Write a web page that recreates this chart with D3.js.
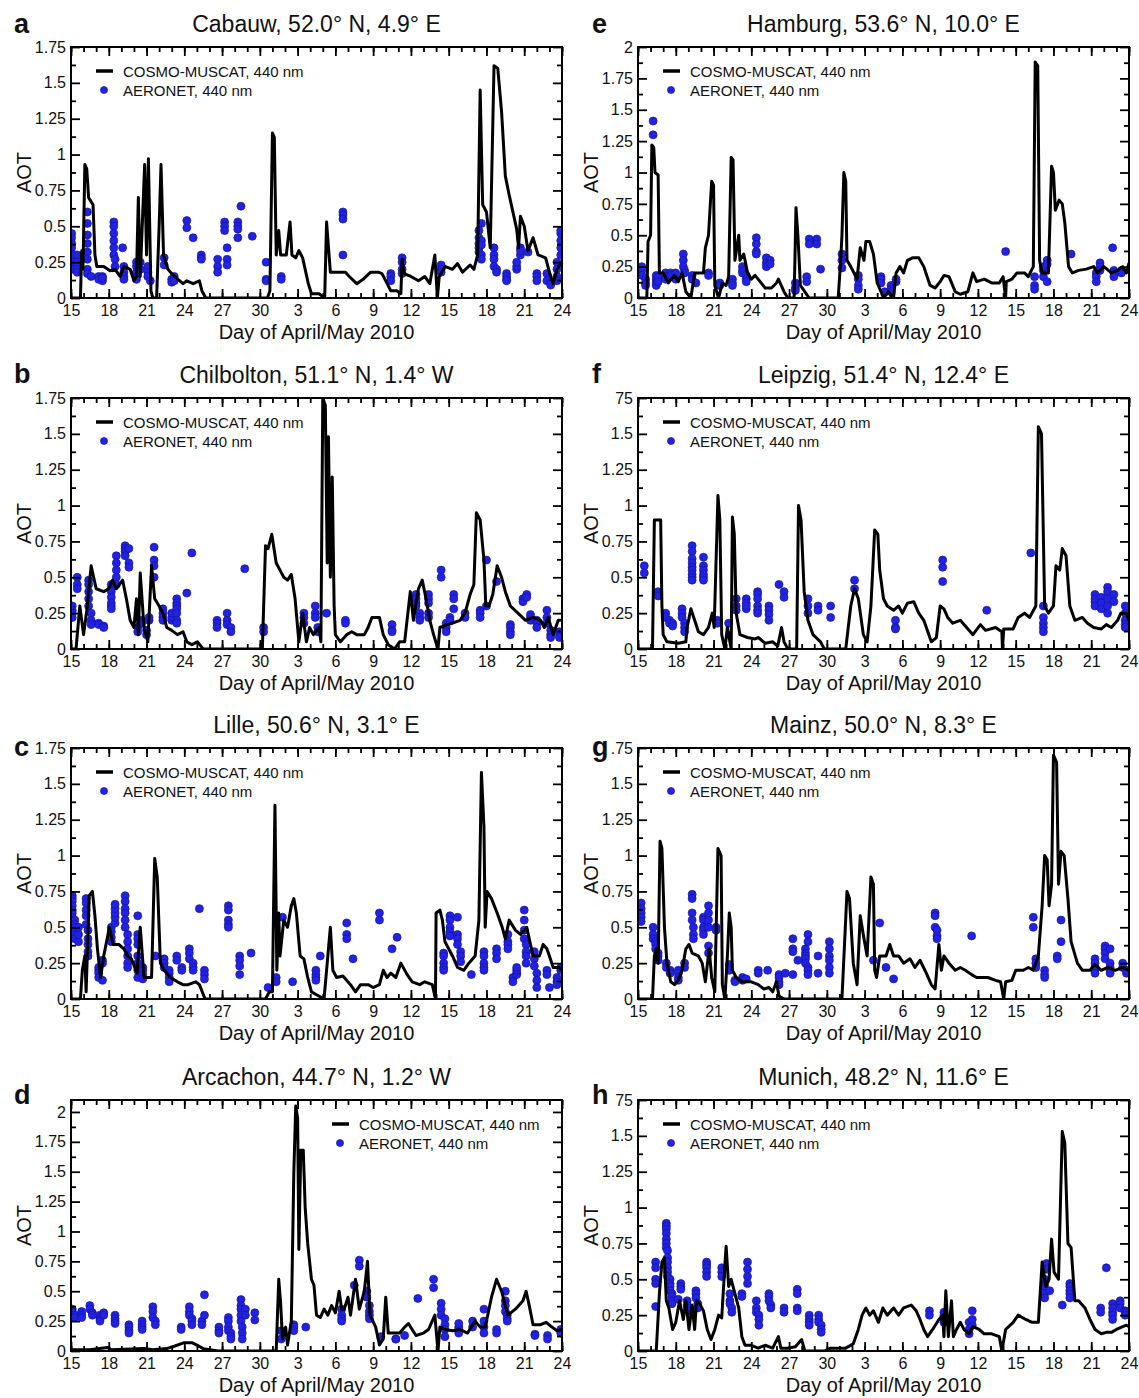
<!DOCTYPE html>
<html>
<head>
<meta charset="utf-8">
<style>
    body { margin: 0; background: #fff; }
    svg { display: block; font-family: 'Liberation Sans', Arial, sans-serif; }
</style>
</head>
<body>
<svg width="1139" height="1398"></svg>

<script src="https://d3js.org/d3.v7.min.js"></script>
<script>
    // x is days since 15 April 2010 (15 = 30 Apr, 16 = 1 May, 39 = 24 May)
    let dayTicks = [0, 3, 6, 9, 12, 15, 18, 21, 24, 27, 30, 33, 36, 39];
    let dayLabels = ["15", "18", "21", "24", "27", "30", "3", "6", "9", "12", "15", "18", "21", "24"];

    // model lines: [day, AOT]
    let cabauwModel = [[0,0],[0.75,0],[0.85,0.33],[0.95,0.2],[1.1,0.93],[1.25,0.9],[1.4,0.7],[1.75,0.65],[1.9,0.3],[2.05,0.22],[2.6,0.22],[3.1,0.19],[3.5,0.2],[3.9,0.15],[4.2,0.22],[4.7,0.2],[5.0,0.12],[5.2,0.15],[5.35,0.7],[5.5,0.15],[5.85,0.93],[6.0,0.3],[6.15,0.97],[6.35,0.05],[6.5,0],[6.8,0],[7.0,0.5],[7.15,0.93],[7.35,0.3],[7.7,0.2],[8.0,0.17],[8.5,0.13],[8.9,0.1],[9.2,0.12],[9.7,0.1],[10.2,0.12],[10.4,0.05],[10.7,0],[15.6,0],[15.8,0.05],[16.0,1.15],[16.15,1.12],[16.3,0.3],[16.5,0.47],[16.65,0.3],[17.1,0.3],[17.4,0.53],[17.55,0.3],[17.85,0.28],[18.1,0.33],[18.4,0.28],[18.85,0.1],[19.1,0.03],[19.7,0.03],[20.15,0],[20.3,0.53],[20.6,0.18],[21.2,0.18],[21.8,0.18],[22.1,0.15],[22.7,0.1],[23.2,0.13],[23.8,0.18],[24.4,0.18],[24.7,0.17],[25.0,0.12],[25.4,0.05],[25.9,0.05],[26.2,0.03],[26.3,0.27],[26.45,0.17],[27.0,0.15],[27.6,0.12],[28.1,0.15],[28.5,0.1],[28.9,0.3],[29.1,0],[29.25,0.15],[29.7,0.22],[30.3,0.2],[30.7,0.24],[31.1,0.18],[31.7,0.23],[32.0,0.2],[32.3,0.3],[32.5,1.45],[32.7,0.65],[33.0,0.6],[33.3,0.35],[33.6,1.62],[33.9,1.6],[34.2,1.3],[34.5,0.85],[34.8,0.72],[35.1,0.6],[35.4,0.48],[35.55,0.35],[35.7,0.57],[36.0,0.5],[36.3,0.33],[36.7,0.42],[37.1,0.3],[37.7,0.28],[38.0,0.18],[38.3,0.1],[38.6,0.2],[39,0.25]];
    let chilboltonModel = [[0,0],[0.4,0],[0.7,0.3],[1.0,0.1],[1.3,0.3],[1.6,0.58],[1.8,0.5],[2.0,0.42],[2.6,0.4],[3.0,0.42],[3.3,0.48],[3.6,0.42],[4.1,0.48],[4.4,0.35],[4.7,0.2],[5.0,0.15],[5.2,0.35],[5.35,0.1],[5.5,0.53],[5.8,0.15],[6.1,0.05],[6.4,0.58],[6.65,0.35],[7.0,0.3],[7.3,0.25],[7.6,0.15],[8.0,0.13],[8.45,0.1],[8.9,0.12],[9.2,0.05],[9.6,0.03],[10.05,0.05],[10.5,0],[15.2,0],[15.45,0.72],[15.65,0.7],[15.95,0.8],[16.3,0.6],[16.6,0.55],[16.9,0.5],[17.2,0.48],[17.5,0.52],[17.8,0.35],[18.1,0.05],[18.4,0.25],[18.7,0.05],[18.95,0.15],[19.25,0.1],[19.7,0.15],[19.85,0.05],[20.0,1.75],[20.2,1.7],[20.35,0.6],[20.45,1.48],[20.6,0.5],[20.75,1.2],[20.9,0.3],[21.0,0.1],[21.4,0.05],[21.9,0.1],[22.3,0.12],[22.7,0.1],[23.3,0.1],[23.6,0.15],[23.9,0.22],[24.5,0.22],[24.8,0.1],[25.2,0.03],[25.7,0],[26.1,0.05],[26.5,0.05],[26.95,0.4],[27.2,0.2],[27.6,0.42],[27.9,0.48],[28.2,0.35],[28.5,0.2],[28.8,0.1],[29.15,0],[29.3,0.15],[29.9,0.17],[30.3,0.18],[30.9,0.2],[31.3,0.25],[31.7,0.38],[32.0,0.45],[32.2,0.95],[32.5,0.9],[32.8,0.62],[32.95,0.3],[33.2,0.3],[33.5,0.38],[33.85,0.58],[34.2,0.5],[34.5,0.4],[34.9,0.3],[35.5,0.25],[36.1,0.2],[36.7,0.22],[37.3,0.2],[37.6,0.15],[37.9,0.22],[38.3,0.1],[38.7,0.2],[39,0.2]];
    let lilleModel = [[0,0],[0.75,0],[0.9,0.2],[1.1,0.3],[1.2,0.05],[1.45,0.72],[1.7,0.75],[1.9,0.58],[2.1,0.35],[2.35,0.15],[2.6,0.3],[3.05,0.5],[3.35,0.38],[3.8,0.38],[4.2,0.35],[4.5,0.3],[4.8,0.28],[5.25,0.18],[5.5,0.5],[5.8,0.15],[6.4,0.15],[6.65,0.98],[6.85,0.85],[7.1,0.25],[7.4,0.2],[7.9,0.15],[8.45,0.12],[8.9,0.1],[9.3,0.1],[9.9,0.12],[10.2,0.1],[10.65,0],[15.45,0],[15.75,0.05],[16.0,0.05],[16.2,1.35],[16.35,0.2],[16.5,0.6],[16.6,0.3],[16.9,0.55],[17.2,0.5],[17.5,0.65],[17.7,0.7],[17.9,0.6],[18.2,0.3],[18.5,0.28],[18.8,0.15],[19.1,0.05],[19.5,0.03],[20.1,0],[20.4,0.3],[20.6,0.5],[20.8,0.2],[21.1,0.15],[21.6,0.16],[22.2,0.1],[22.6,0.05],[23.0,0.1],[23.6,0.1],[24.0,0.08],[24.5,0.1],[24.8,0.2],[25.1,0.15],[25.4,0.18],[25.8,0.15],[26.2,0.25],[26.7,0.17],[27.1,0.12],[27.7,0.1],[28.1,0.12],[28.7,0.1],[28.95,0],[29.0,0.6],[29.3,0.62],[29.5,0.55],[29.7,0.4],[30.3,0.3],[30.7,0.22],[31.2,0.2],[31.6,0.25],[32.1,0.3],[32.4,0.55],[32.6,1.58],[32.8,1.2],[32.9,0.5],[33.05,0.75],[33.4,0.7],[33.85,0.6],[34.25,0.5],[34.5,0.42],[34.8,0.55],[35.3,0.48],[35.7,0.45],[36.2,0.5],[36.4,0.42],[36.7,0.3],[37.2,0.3],[37.5,0.38],[37.8,0.35],[38.0,0.3],[38.3,0.22],[38.8,0.22],[39,0.2]];
    let arcachonModel = [[0,0.01],[1.5,0.01],[2.9,0.03],[3.2,0.01],[5.8,0.02],[6.5,0.01],[7.6,0.02],[8.2,0.04],[9.0,0.07],[9.6,0.07],[10.0,0.05],[10.5,0.02],[11.7,0],[16.3,0],[16.5,0.6],[16.65,0.4],[16.8,0.1],[17.05,0.2],[17.2,0.05],[17.5,0.25],[17.7,1.5],[17.85,2.05],[18.0,1.95],[18.1,0.85],[18.25,1.68],[18.45,1.68],[18.6,1.2],[18.8,0.9],[19.1,0.6],[19.3,0.55],[19.5,0.3],[19.8,0.28],[20.1,0.35],[20.4,0.3],[20.7,0.38],[21.0,0.32],[21.3,0.5],[21.5,0.35],[21.7,0.35],[22.0,0.45],[22.2,0.3],[22.6,0.6],[22.9,0.35],[23.3,0.5],[23.55,0.75],[23.75,0.3],[24.2,0.2],[24.5,0.05],[24.8,0.1],[25.0,0.45],[25.2,0.15],[25.7,0.15],[26.1,0.15],[26.5,0.2],[26.8,0.23],[27.4,0.13],[28.0,0.15],[28.4,0.18],[28.9,0.3],[29.15,0],[29.3,0.2],[29.7,0.18],[30.3,0.17],[30.9,0.18],[31.5,0.15],[32.1,0.25],[32.5,0.2],[32.9,0.2],[33.4,0.45],[33.8,0.6],[34.2,0.5],[34.7,0.3],[35.3,0.35],[35.9,0.42],[36.15,0.5],[36.4,0.38],[36.7,0.22],[37.3,0.22],[37.75,0.24],[38.2,0.2],[38.6,0.17],[39,0.18]];
    let hamburgModel = [[0,0],[0.7,0],[0.8,0.45],[1.0,0.5],[1.1,1.22],[1.25,1.2],[1.35,1.0],[1.6,0.98],[1.7,0.2],[2.0,0.2],[2.4,0.12],[2.9,0.18],[3.2,0.13],[3.5,0.2],[3.8,0.05],[4.2,0],[4.5,0.2],[5.2,0.2],[5.35,0.4],[5.6,0.5],[5.85,0.93],[6.0,0.9],[6.1,0.1],[6.4,0],[6.7,0.12],[7.0,0.1],[7.2,0.17],[7.4,1.12],[7.55,1.1],[7.7,0.3],[8.0,0.5],[8.1,0.3],[8.4,0.35],[8.7,0.2],[9.0,0.15],[9.3,0.18],[9.7,0.13],[10.1,0.08],[10.6,0.08],[11.0,0.12],[11.15,0.15],[11.6,0.05],[11.9,0],[12.4,0],[12.55,0.72],[12.7,0.5],[12.9,0.1],[13.6,0],[15.9,0],[16.1,0.3],[16.2,0.5],[16.35,1.0],[16.5,0.93],[16.6,0.3],[16.9,0.25],[17.4,0.15],[17.65,0.4],[17.95,0.3],[18.1,0.45],[18.4,0.45],[18.7,0.35],[19.0,0.12],[19.3,0.05],[19.5,0],[19.9,0.05],[20.3,0],[20.5,0.2],[20.8,0.25],[21.1,0.2],[21.4,0.3],[21.8,0.32],[22.3,0.32],[22.7,0.25],[23.2,0.1],[23.6,0.08],[24.0,0.13],[24.3,0.18],[24.7,0.17],[25.2,0.05],[25.6,0.03],[26.2,0.05],[26.6,0.2],[26.9,0.13],[27.5,0.15],[28.1,0.12],[28.7,0.12],[29.0,0.17],[29.2,0],[29.25,0.13],[29.7,0.15],[30.1,0.2],[30.7,0.2],[31.0,0.17],[31.4,0.25],[31.55,1.88],[31.75,1.85],[31.9,0.3],[32.1,0.2],[32.6,0.2],[32.85,1.05],[33.0,1.0],[33.15,0.7],[33.45,0.78],[33.7,0.75],[33.9,0.6],[34.2,0.25],[34.5,0.2],[35.0,0.22],[35.6,0.23],[36.2,0.25],[36.5,0.2],[37.0,0.25],[37.6,0.2],[38.1,0.22],[38.5,0.25],[38.8,0.2],[39,0.28]];
    let leipzigModel = [[0,0],[1.15,0],[1.3,0.9],[1.8,0.9],[1.9,0.3],[2.0,0.1],[2.3,0.05],[3.2,0.04],[3.8,0.05],[3.9,0.15],[4.2,0.28],[4.5,0.2],[4.8,0.12],[5.2,0.1],[5.6,0.15],[5.9,0.25],[6.05,0.15],[6.35,1.07],[6.5,0.9],[6.65,0.1],[6.9,0],[7.1,0.15],[7.4,0],[7.5,0.92],[7.65,0.8],[7.8,0.25],[8.1,0.1],[8.7,0.08],[9.3,0.07],[9.55,0.08],[10.1,0.04],[10.7,0.05],[11.1,0.02],[11.4,0.15],[11.6,0.05],[11.9,0],[12.6,0],[12.75,1.0],[12.95,0.9],[13.2,0.4],[13.5,0.2],[13.9,0.1],[14.5,0.05],[14.8,0],[16.5,0],[16.9,0.3],[17.2,0.42],[17.5,0.35],[17.9,0.1],[18.2,0.05],[18.5,0.3],[18.8,0.83],[19.05,0.8],[19.2,0.55],[19.5,0.35],[19.8,0.3],[20.3,0.27],[20.7,0.3],[21.0,0.25],[21.4,0.32],[21.9,0.33],[22.3,0.25],[22.7,0.2],[23.3,0.05],[23.7,0.08],[24.0,0.3],[24.3,0.28],[24.6,0.22],[25.0,0.18],[25.6,0.2],[26.0,0.16],[26.6,0.1],[27.2,0.17],[27.6,0.13],[28.4,0.15],[28.9,0.12],[28.95,0],[29.05,0.14],[29.8,0.14],[30.2,0.22],[30.7,0.25],[31.1,0.22],[31.6,0.3],[31.8,1.55],[32.05,1.5],[32.3,0.3],[32.6,0.25],[33.0,0.3],[33.2,0.58],[33.5,0.55],[33.7,0.7],[34.0,0.65],[34.3,0.3],[34.7,0.2],[35.3,0.22],[35.7,0.18],[36.2,0.15],[36.8,0.14],[37.2,0.17],[37.6,0.15],[38.1,0.2],[38.35,0.25],[38.8,0.25],[39,0.2]];
    let mainzModel = [[0,0],[1.15,0],[1.3,0.3],[1.45,0.35],[1.6,0.25],[1.75,1.1],[1.9,1.05],[2.1,0.5],[2.3,0.25],[2.6,0.12],[2.9,0.1],[3.2,0.13],[3.5,0.2],[3.8,0.35],[4.05,0.38],[4.3,0.32],[4.8,0.3],[5.1,0.25],[5.35,0.12],[5.65,0.35],[5.85,0.15],[6.1,0.05],[6.35,1.05],[6.6,1.0],[6.7,0.1],[6.9,0],[7.1,0.3],[7.25,0.6],[7.4,0.5],[7.5,0.2],[7.8,0.15],[8.25,0.12],[9.0,0.12],[9.55,0.1],[10.0,0.07],[10.4,0.08],[10.7,0.05],[11.0,0.12],[11.2,0.02],[11.6,0],[16.2,0],[16.6,0.75],[16.8,0.7],[17.1,0.25],[17.4,0.1],[17.65,0.58],[17.95,0.42],[18.2,0.3],[18.5,0.85],[18.7,0.8],[18.8,0.2],[18.95,0.15],[19.2,0.3],[19.7,0.3],[20.0,0.38],[20.3,0.3],[20.7,0.3],[21.1,0.25],[21.6,0.28],[22.0,0.22],[22.4,0.27],[22.9,0.18],[23.3,0.1],[23.6,0.07],[23.9,0.38],[24.1,0.2],[24.3,0.3],[24.7,0.25],[25.2,0.2],[25.6,0.22],[26.0,0.2],[26.5,0.17],[26.9,0.15],[27.8,0.15],[28.4,0.13],[28.8,0.12],[29.05,0],[29.2,0.12],[29.7,0.13],[30.0,0.2],[30.6,0.2],[31.0,0.22],[31.4,0.2],[31.8,0.3],[32.1,0.65],[32.3,1.0],[32.5,0.97],[32.65,0.65],[32.85,0.8],[33.0,1.7],[33.25,1.65],[33.4,0.8],[33.6,1.03],[33.85,1.0],[34.15,0.7],[34.4,0.4],[34.9,0.25],[35.3,0.2],[35.9,0.2],[36.3,0.24],[36.8,0.2],[37.3,0.22],[37.9,0.2],[38.5,0.22],[39,0.2]];
    let munichModel = [[0,0],[1.45,0],[1.7,0.4],[1.9,0.62],[2.1,0.65],[2.25,0.35],[2.45,0.3],[2.75,0.15],[3.0,0.2],[3.3,0.35],[3.6,0.22],[3.8,0.35],[4.05,0.15],[4.3,0.32],[4.5,0.15],[4.65,0.35],[4.9,0.33],[5.2,0.28],[5.5,0.15],[5.8,0.08],[6.1,0.15],[6.4,0.25],[6.65,0.23],[6.9,0.6],[7.0,0.73],[7.2,0.45],[7.4,0.5],[7.7,0.4],[8.0,0.3],[8.25,0.1],[8.5,0.04],[9.0,0.04],[9.55,0.02],[10.1,0.04],[10.7,0.02],[11.15,0.1],[11.35,0.02],[11.9,0.02],[12.5,0.03],[13.0,0.08],[13.25,0],[14.8,0],[15.3,0.02],[16.5,0.02],[17.1,0.05],[17.5,0.15],[17.8,0.25],[18.1,0.3],[18.4,0.25],[18.7,0.28],[19.1,0.2],[19.45,0.3],[19.8,0.25],[20.3,0.3],[20.7,0.25],[21.1,0.3],[21.7,0.32],[22.1,0.28],[22.4,0.22],[22.7,0.15],[23.0,0.1],[23.4,0.15],[23.9,0.22],[24.2,0.25],[24.3,0.1],[24.45,0.42],[24.65,0.1],[24.9,0.35],[25.05,0.1],[25.3,0.15],[25.6,0.2],[25.9,0.15],[26.3,0.12],[26.6,0.17],[27.1,0.15],[27.5,0.12],[28.1,0.12],[28.7,0.1],[28.9,0],[29.2,0.15],[29.8,0.2],[30.2,0.25],[30.8,0.22],[31.3,0.2],[31.8,0.2],[32.1,0.62],[32.4,0.45],[32.65,0.5],[32.85,0.78],[33.05,0.55],[33.4,0.5],[33.7,1.53],[33.9,1.45],[34.15,0.75],[34.4,0.72],[34.7,0.35],[35.0,0.35],[35.5,0.3],[35.9,0.22],[36.3,0.15],[36.8,0.12],[37.2,0.13],[37.6,0.13],[38.0,0.15],[38.5,0.17],[38.8,0.18],[39,0.17]];

    // AERONET measurements: [day, AOT, AOT, ...] (several values measured at about the same time)
    let cabauwObs = [[0.05,0.45,0.42,0.38,0.35],[0.2,0.3,0.25,0.22,0.2],[0.5,0.3,0.25,0.22,0.2,0.18],[1.3,0.6,0.52,0.44,0.38,0.32,0.27,0.2,0.17],[1.6,0.15],[2.2,0.15,0.13],[2.5,0.12,0.15,0.14],[3.4,0.53,0.5,0.45,0.4,0.35,0.3],[3.5,0.27,0.22],[4.1,0.35],[4.2,0.22,0.18,0.15,0.13],[5.2,0.25,0.22,0.18,0.15,0.13],[5.5,0.25,0.2],[6.1,0.22,0.18,0.15],[6.3,0.12],[7.4,0.28,0.23],[8.0,0.13,0.11],[8.2,0.15,0.12],[9.2,0.54,0.49],[9.7,0.42],[10.35,0.3,0.28,0.27],[11.65,0.27,0.22,0.18],[12.2,0.53,0.5,0.47],[12.4,0.35,0.27,0.23],[13.25,0.53,0.5,0.48,0.42],[13.5,0.64],[14.4,0.43],[15.5,0.25,0.13,0.12],[16.7,0.15,0.13],[21.6,0.6,0.58,0.55,0.3],[25.4,0.17,0.15,0.12],[26.3,0.28,0.25,0.2,0.17],[29.4,0.23,0.2,0.18],[32.4,0.47,0.42,0.38,0.35,0.32],[32.6,0.3,0.27,0.52,0.4,0.37],[33.6,0.35,0.3,0.27,0.22],[33.8,0.2,0.18],[34.6,0.17,0.15,0.13,0.12],[35.4,0.2,0.22,0.25],[35.7,0.3,0.35,0.33],[36.3,0.32],[37.0,0.17,0.15,0.12],[37.8,0.17,0.12],[38.1,0.1,0.09],[38.6,0.25,0.2,0.15,0.12],[38.9,0.4,0.45,0.47,0.35,0.3]];
    let chilboltonObs = [[0.1,0.3,0.27,0.25,0.22],[0.5,0.5,0.45,0.42],[1.4,0.48,0.45,0.4,0.35,0.3],[1.6,0.25,0.2,0.17],[2.2,0.18,0.17],[2.6,0.16,0.15],[3.2,0.45,0.42,0.4,0.36,0.32,0.3,0.28],[3.6,0.65,0.6,0.55,0.5,0.45],[4.3,0.72,0.7,0.68,0.65],[4.6,0.6,0.57,0.7],[5.3,0.15,0.12],[5.6,0.2,0.18],[6.0,0.1,0.13],[6.2,0.2,0.22],[6.6,0.71,0.62,0.58,0.5],[7.3,0.28,0.25,0.22,0.2],[8.0,0.2,0.22,0.25],[8.4,0.35,0.32,0.3,0.28,0.25,0.2,0.18],[9.2,0.39],[9.6,0.67],[11.6,0.2,0.18,0.15],[12.4,0.25,0.2,0.17],[12.7,0.15,0.12],[13.8,0.56],[15.3,0.15,0.12],[18.5,0.25,0.22,0.18],[19.4,0.3,0.25,0.22],[19.6,0.15,0.12],[20.3,0.25],[21.8,0.2,0.18],[25.5,0.17,0.13,0.12],[27.4,0.38,0.35,0.32,0.3],[27.7,0.25,0.22,0.2],[28.4,0.38,0.35,0.32,0.25,0.22],[29.4,0.55,0.5],[29.8,0.18,0.15,0.12],[30.1,0.22,0.2],[30.4,0.38,0.35,0.28],[31.3,0.25,0.22],[32.5,0.27,0.25,0.22],[33.0,0.62,0.3],[33.8,0.47],[34.9,0.17,0.15,0.12,0.1],[35.9,0.35,0.33],[36.2,0.38,0.36],[36.5,0.24,0.22,0.2],[37.0,0.2,0.18,0.15],[37.8,0.27,0.22,0.18],[38.1,0.13,0.1,0.08],[38.8,0.12,0.1,0.08]];
    let lilleObs = [[0.1,0.72,0.7,0.68,0.65,0.62,0.6,0.57],[0.3,0.55,0.52,0.5,0.47,0.45,0.42],[0.6,0.4,0.45,0.5],[1.2,0.7,0.67,0.62,0.58,0.52],[1.35,0.48,0.42,0.38,0.33,0.3],[2.2,0.22,0.2,0.18,0.15],[2.5,0.13,0.27,0.25],[3.2,0.4,0.43,0.47,0.5],[3.5,0.53,0.57,0.6,0.63,0.66],[4.3,0.72,0.68,0.63,0.6,0.55,0.5],[4.5,0.45,0.4,0.35,0.3,0.25,0.22],[5.3,0.58,0.45,0.42,0.38,0.3,0.25,0.2,0.15],[5.7,0.22,0.2,0.17,0.14],[6.7,0.3],[7.4,0.28,0.25,0.22],[7.8,0.2,0.18,0.15,0.12],[8.4,0.3,0.27],[8.8,0.22,0.2],[9.4,0.35,0.32,0.28],[9.7,0.25,0.22,0.2],[10.2,0.63],[10.6,0.2,0.17,0.14],[12.5,0.65,0.62,0.55,0.52,0.5],[13.4,0.3,0.27,0.23,0.17],[14.3,0.32],[15.65,0.08],[16.3,0.15,0.12],[16.8,0.57],[17.6,0.12],[19.45,0.2,0.17,0.15,0.13],[19.8,0.3],[21.9,0.53,0.45,0.42],[22.4,0.28],[24.5,0.6,0.55],[25.5,0.35],[25.9,0.43],[29.6,0.32,0.3,0.25,0.22,0.2],[30.1,0.58,0.55,0.5,0.47,0.44],[30.7,0.57,0.45,0.42,0.38],[30.95,0.33,0.3,0.26],[31.8,0.17],[32.8,0.33,0.3,0.25,0.22,0.2],[33.8,0.35,0.32,0.28],[34.7,0.45,0.4,0.38,0.35],[35.1,0.15,0.12],[35.4,0.18,0.17,0.2,0.22],[36.0,0.62,0.55,0.48,0.42],[36.15,0.38,0.33,0.3,0.25],[36.8,0.33,0.28,0.23],[37.0,0.18,0.13,0.08],[37.8,0.2,0.17],[38.0,0.08],[38.6,0.15,0.12,0.1],[38.9,0.2,0.22]];
    let arcachonObs = [[0.1,0.35,0.33],[0.3,0.3,0.28],[0.85,0.33,0.3,0.28],[1.5,0.38,0.35],[1.7,0.32,0.3],[2.3,0.3,0.27,0.25],[2.6,0.32,0.3],[3.5,0.3,0.27,0.25,0.23],[4.6,0.22,0.2,0.17,0.15],[5.65,0.25,0.22,0.2,0.18],[6.5,0.37,0.33,0.28],[6.7,0.25,0.22],[8.75,0.2,0.18],[9.4,0.37,0.33,0.3],[9.6,0.27,0.25,0.22],[10.4,0.25,0.22],[10.6,0.3,0.47],[11.75,0.2,0.17,0.15],[12.5,0.28,0.25,0.2,0.17],[12.7,0.15,0.12,0.1],[13.5,0.43,0.38,0.35,0.3,0.25],[13.6,0.2,0.15,0.1],[13.85,0.35,0.3],[14.6,0.32,0.26],[16.7,0.17,0.1],[17.7,0.22,0.2,0.17],[18.65,0.2],[21.5,0.35,0.3,0.27,0.25],[22.5,0.55],[22.9,0.76,0.71],[23.5,0.5,0.45],[23.7,0.38,0.33,0.3,0.27],[24.6,0.12],[25.8,0.1,0.1],[26.5,0.13],[27.55,0.44],[28.8,0.6,0.53],[29.4,0.4,0.35,0.3],[29.7,0.27,0.22,0.18,0.12],[30.8,0.2,0.18,0.15,0.23],[31.9,0.2,0.25],[32.8,0.35,0.25,0.2,0.15],[33.8,0.18,0.15],[34.5,0.5,0.42,0.38,0.33],[34.65,0.3,0.27,0.25],[36.85,0.14,0.13],[37.85,0.13,0.1],[38.9,0.18,0.15]];
    let hamburgObs = [[0.3,0.25,0.22,0.18],[0.6,0.15,0.12,0.1],[1.2,1.41,1.3],[1.45,0.18,0.15,0.12,0.1],[1.6,0.17,0.13],[2.2,0.2,0.17,0.15],[2.6,0.2,0.18],[3.0,0.15,0.2],[3.6,0.35,0.3,0.25],[3.7,0.22,0.2],[4.3,0.18,0.15],[4.6,0.12],[5.6,0.2,0.18],[6.5,0.12,0.1],[7.5,0.15,0.12,0.1],[8.3,0.25,0.22,0.2],[8.6,0.18,0.15,0.13],[9.4,0.48,0.43,0.37,0.35],[10.2,0.32,0.28,0.25],[10.5,0.3,0.27],[12.5,0.12,0.08,0.06],[13.4,0.17,0.13],[13.6,0.47,0.43],[14.2,0.47,0.43],[14.5,0.23],[16.2,0.35,0.3,0.24],[17.5,0.18,0.15,0.1,0.07],[19.3,0.17,0.15,0.12],[19.6,0.05],[20.1,0.1,0.07,0.05],[20.5,0.13,0.15],[29.2,0.37],[31.5,0.17,0.1,0.07],[32.2,0.17,0.22,0.25],[32.5,0.3,0.27,0.13],[34.4,0.35],[36.4,0.2,0.17,0.13],[36.7,0.28,0.25,0.22],[37.7,0.4],[37.8,0.22,0.2,0.17],[38.4,0.22,0.2]];
    let leipzigObs = [[0.5,0.58,0.53],[1.6,0.4,0.37],[2.2,0.25,0.22],[2.5,0.2,0.18],[2.75,0.18,0.16],[3.5,0.28,0.25,0.22],[3.7,0.18,0.15,0.12],[4.3,0.72,0.68,0.63,0.6,0.57,0.55,0.52,0.5,0.48],[5.2,0.64,0.58,0.55,0.52,0.5,0.48],[6.3,0.2,0.18],[7.2,0.18],[7.8,0.35,0.3,0.27],[8.6,0.35,0.32,0.28,0.3],[9.5,0.4,0.38,0.35,0.3,0.27,0.25],[10.4,0.3,0.27,0.24,0.2],[11.2,0.45],[11.6,0.4,0.36],[13.5,0.35,0.3,0.25],[14.3,0.3,0.27],[15.3,0.3,0.22],[17.2,0.48,0.42],[20.45,0.2,0.15,0.14],[24.2,0.62,0.57,0.47],[27.7,0.27],[31.2,0.67],[32.2,0.3,0.22,0.18,0.15,0.12],[36.3,0.38,0.35,0.33,0.3],[36.8,0.36,0.32,0.28],[37.3,0.43,0.4,0.35,0.3,0.25],[37.8,0.38,0.33],[38.7,0.3,0.25,0.2,0.17,0.15]];
    let mainzObs = [[0.25,0.67,0.63,0.6,0.57,0.54],[1.2,0.5,0.45,0.42],[1.4,0.4,0.38,0.35],[1.6,0.32,0.3,0.27],[2.25,0.25,0.22],[2.55,0.2,0.18],[3.2,0.2,0.18,0.15,0.13],[3.7,0.25,0.22],[4.3,0.73,0.7,0.6,0.55],[4.4,0.5,0.45,0.42],[5.2,0.57,0.55,0.5,0.48,0.45],[5.6,0.65,0.6,0.55,0.5,0.37,0.32],[6.2,0.5,0.48],[7.25,0.24,0.2],[7.7,0.13,0.12],[8.3,0.15,0.13],[8.6,0.14],[9.55,0.2,0.18],[10.3,0.2],[11.2,0.17,0.15,0.12,0.1],[11.7,0.18],[12.3,0.42,0.35,0.33,0.17],[12.7,0.27],[13.3,0.35,0.32,0.3,0.28,0.25],[13.5,0.22,0.2,0.17,0.45,0.4],[14.3,0.3,0.18],[15.2,0.4,0.35,0.3,0.27,0.22,0.18],[18.7,0.27],[19.2,0.53],[19.7,0.22],[20.3,0.14],[23.6,0.6,0.58,0.5],[23.75,0.48,0.44,0.42],[26.5,0.44],[31.4,0.57,0.5],[31.6,0.28,0.25,0.22],[32.3,0.2,0.17,0.15],[33.3,0.3,0.28],[33.6,0.55,0.4],[36.3,0.28,0.25,0.22,0.2,0.18],[37.1,0.37,0.35,0.32,0.28],[37.5,0.25,0.22,0.2,0.18,0.35],[38.5,0.25,0.22],[38.8,0.2,0.18]];
    let munichObs = [[1.4,0.62,0.58,0.5,0.47,0.31],[2.25,0.89,0.87,0.85,0.82,0.78,0.75,0.72],[2.35,0.7,0.65,0.62,0.58,0.55,0.52],[2.55,0.5,0.47,0.45,0.42],[2.7,0.4,0.38,0.35,0.33],[3.2,0.36],[3.4,0.47,0.45,0.43],[3.9,0.35,0.32],[4.1,0.3,0.28],[4.6,0.42,0.4,0.37],[4.75,0.33,0.3],[5.45,0.62,0.6,0.58,0.55,0.52],[6.65,0.58,0.55,0.52],[7.3,0.4,0.35,0.33],[7.45,0.3,0.27],[8.25,0.4,0.38],[8.7,0.62,0.57,0.52,0.47],[9.4,0.35,0.3,0.27],[9.6,0.25,0.22,0.18],[10.4,0.4,0.38,0.35],[10.55,0.32,0.3],[11.6,0.3,0.27],[12.65,0.43,0.4,0.3,0.28],[13.6,0.25,0.22,0.2,0.18],[14.35,0.25,0.22,0.2],[14.55,0.18,0.15,0.13],[23.15,0.28,0.25],[24.3,0.27,0.25,0.22,0.2],[26.3,0.2,0.15,0.12],[26.55,0.18,0.22,0.28],[32.3,0.5,0.45,0.4,0.37],[32.45,0.61,0.57],[32.7,0.42],[33.7,0.32],[34.3,0.47,0.45,0.42,0.4,0.37],[36.75,0.3,0.27],[37.2,0.58],[37.7,0.33,0.3,0.27,0.25,0.22],[38.3,0.35,0.33,0.3],[38.7,0.28,0.27,0.25]];

    let letters = ["a", "b", "c", "d", "e", "f", "g", "h"];
    let titles = ["Cabauw, 52.0° N, 4.9° E", "Chilbolton, 51.1° N, 1.4° W", "Lille, 50.6° N, 3.1° E", "Arcachon, 44.7° N, 1.2° W",
        "Hamburg, 53.6° N, 10.0° E", "Leipzig, 51.4° N, 12.4° E", "Mainz, 50.0° N, 8.3° E", "Munich, 48.2° N, 11.6° E"];
    let yMaxes = [1.75, 1.75, 1.75, 2.1, 2, 1.75, 1.75, 1.75];
    // top y label as printed (partly hidden by the panel letter in the source figure)
    let topLabels = [null, null, null, null, null, "75", ".75", "75"];
    let models = [cabauwModel, chilboltonModel, lilleModel, arcachonModel, hamburgModel, leipzigModel, mainzModel, munichModel];
    let observations = [cabauwObs, chilboltonObs, lilleObs, arcachonObs, hamburgObs, leipzigObs, mainzObs, munichObs];

    let svg = d3.select("svg");
    let colX = [71, 638];
    let rowY = [47, 398, 748, 1100];
    let letterY = [33, 383, 756, 1104];
    let w = 491, h = 251;
    let dotFill = "#2222e4", dotStroke = "#14149c";

    letters.forEach((letter, i) => drawPanel(i));

    function drawPanel(i) {
        let col = Math.floor(i / 4), row = i % 4;
        let x0 = colX[col], y0 = rowY[row];
        let yMax = yMaxes[i];

        let x = d3.scaleLinear().domain([0, 39]).range([0, w]);
        let y = d3.scaleLinear().domain([0, yMax]).range([h, 0]);

        let g = svg.append("g").attr("transform", `translate(${x0},${y0})`);

        g.append("clipPath").attr("id", "clip" + i)
            .append("rect").attr("width", w).attr("height", h);

        // AERONET dots
        let pts = observations[i].flatMap(c => c.slice(1).map(v => [c[0], v]));
        g.append("g").attr("clip-path", `url(#clip${i})`)
            .selectAll("circle")
            .data(pts)
            .join("circle")
            .attr("cx", d => x(d[0]))
            .attr("cy", d => y(d[1]))
            .attr("r", 4)
            .style("fill", dotFill)
            .style("stroke", dotStroke)
            .style("stroke-width", 0.7);

        // model line
        let line = d3.line().x(d => x(d[0])).y(d => y(d[1]));
        g.append("path")
            .attr("clip-path", `url(#clip${i})`)
            .attr("d", line(models[i]))
            .style("fill", "none")
            .style("stroke", "black")
            .style("stroke-width", 3)
            .style("stroke-linejoin", "round");

        // ticks, all pointing inward
        let days = d3.range(0, 40);
        let majorY = d3.range(0, yMax + 0.001, 0.25);
        let minorY = d3.range(0.125, yMax, 0.25);
        let yLabel = d => (d === majorY[majorY.length - 1] && topLabels[i]) ? topLabels[i] : String(d);

        let axes = [
            g.append("g").attr("transform", `translate(0,${h})`)
                .call(d3.axisBottom(x).tickValues(days).tickSize(-5).tickFormat("")),
            g.append("g").attr("transform", `translate(0,${h})`)
                .call(d3.axisBottom(x).tickValues(dayTicks).tickSize(-9).tickPadding(7)
                    .tickFormat((d, k) => dayLabels[k])),
            g.append("g").call(d3.axisTop(x).tickValues(days).tickSize(-5).tickFormat("")),
            g.append("g").call(d3.axisTop(x).tickValues(dayTicks).tickSize(-9).tickFormat("")),
            g.append("g").call(d3.axisLeft(y).tickValues(minorY).tickSize(-5).tickFormat("")),
            g.append("g").call(d3.axisLeft(y).tickValues(majorY).tickSize(-9).tickPadding(5).tickFormat(yLabel)),
            g.append("g").attr("transform", `translate(${w},0)`)
                .call(d3.axisRight(y).tickValues(minorY).tickSize(-5).tickFormat("")),
            g.append("g").attr("transform", `translate(${w},0)`)
                .call(d3.axisRight(y).tickValues(majorY).tickSize(-9).tickFormat(""))
        ];
        axes.forEach(a => {
            a.attr("font-family", null).attr("font-size", null);
            a.select(".domain").remove();
            a.selectAll(".tick line").style("stroke", "black").style("stroke-width", 1.8);
            a.selectAll(".tick text").style("font-size", "16px").style("fill", "#111");
        });

        g.append("rect")
            .attr("width", w).attr("height", h)
            .style("fill", "none")
            .style("stroke", "black")
            .style("stroke-width", 2);

        // legend
        let lx = i === 3 ? 261 : 25;
        let leg = g.append("g").attr("transform", `translate(${lx},24)`);
        leg.append("line").attr("x1", 0).attr("x2", 17).attr("y1", 0).attr("y2", 0)
            .style("stroke", "black").style("stroke-width", 3.5);
        leg.append("circle").attr("cx", 8).attr("cy", 19).attr("r", 3.6)
            .style("fill", dotFill).style("stroke", dotStroke).style("stroke-width", 0.6);
        leg.append("text").attr("x", 27).attr("y", 5.5)
            .style("font-size", "15px").style("fill", "#111").text("COSMO-MUSCAT, 440 nm");
        leg.append("text").attr("x", 27).attr("y", 24.5)
            .style("font-size", "15px").style("fill", "#111").text("AERONET, 440 nm");

        // titles and labels
        g.append("text")
            .attr("x", w / 2).attr("y", -15)
            .attr("text-anchor", "middle")
            .style("font-size", "23px").style("fill", "#111")
            .text(titles[i]);

        g.append("text")
            .attr("x", w / 2).attr("y", h + 41)
            .attr("text-anchor", "middle")
            .style("font-size", "20px").style("fill", "#111")
            .text("Day of April/May 2010");

        g.append("text")
            .attr("transform", `translate(-40,${h / 2}) rotate(-90)`)
            .attr("text-anchor", "middle")
            .style("font-size", "20px").style("fill", "#111")
            .text("AOT");

        svg.append("text")
            .attr("x", col === 0 ? 14 : 592)
            .attr("y", letterY[row])
            .style("font-size", "27px").style("font-weight", "bold").style("fill", "#111")
            .text(letters[i]);
    }
</script>
</body>
</html>
